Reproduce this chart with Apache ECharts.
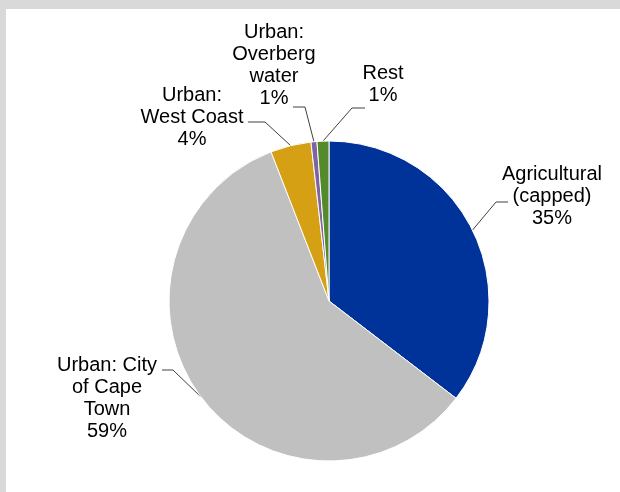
<!DOCTYPE html>
<html>
<head>
<meta charset="utf-8">
<script src="https://cdn.jsdelivr.net/npm/echarts@6/dist/echarts.min.js"></script>
<style>
  html, body { margin: 0; padding: 0; background: #fff; }
  #chart { width: 620px; height: 492px; }
</style>
</head>
<body>
<div id="chart"></div>
<script>
// Water allocation shares by user group (percent)
const categories = [
  'Agricultural\n(capped)',
  'Urban: City\nof Cape\nTown',
  'Urban:\nWest Coast',
  'Urban:\nOverberg\nwater',
  'Rest'
];
const shares = [35.4, 58.7, 4.1, 0.6, 1.2];
const colors = ['#003399', '#c0c0c0', '#d6a014', '#8064a2', '#548a2c'];

// Label block centres and leader elbows, per slice
const labelSpots = [
  { x: 552, y: 196, elbow: [496, 202], end: [508, 202] },
  { x: 107, y: 398, elbow: [173, 370], end: [162, 370] },
  { x: 192, y: 117, elbow: [265, 122], end: [248, 122] },
  { x: 274, y: 65,  elbow: [305, 107], end: [293, 107] },
  { x: 383, y: 84,  elbow: [352, 108], end: [365, 108] }
];

const chart = echarts.init(document.getElementById('chart'), null, { renderer: 'canvas' });

chart.setOption({
  animation: false,
  backgroundColor: '#ffffff',
  graphic: [
    { type: 'rect', shape: { x: 0, y: 0, width: 620, height: 9 }, style: { fill: '#d9d9d9' }, silent: true },
    { type: 'rect', shape: { x: 0, y: 0, width: 6, height: 492 }, style: { fill: '#d9d9d9' }, silent: true }
  ],
  series: [{
    type: 'pie',
    center: [329, 301],
    radius: [0, 160],
    startAngle: 90,
    clockwise: true,
    percentPrecision: 0,
    avoidLabelOverlap: false,
    itemStyle: { borderColor: '#ffffff', borderWidth: 1 },
    label: {
      show: true,
      position: 'outside',
      formatter: '{b}\n{d}%',
      fontFamily: 'Liberation Sans, Arial, sans-serif',
      fontSize: 20,
      lineHeight: 22,
      color: '#000000',
      align: 'center'
    },
    labelLine: {
      show: true,
      length: 20,
      length2: 10,
      lineStyle: { color: '#404040', width: 1 }
    },
    labelLayout: function (params) {
      const s = labelSpots[params.dataIndex];
      const start = params.labelLinePoints ? params.labelLinePoints[0] : s.elbow;
      return {
        x: s.x,
        y: s.y,
        align: 'center',
        verticalAlign: 'middle',
        labelLinePoints: [start, s.elbow, s.end]
      };
    },
    data: categories.map((name, i) => ({
      name: name,
      value: shares[i],
      itemStyle: { color: colors[i] }
    }))
  }]
});
</script>
</body>
</html>
